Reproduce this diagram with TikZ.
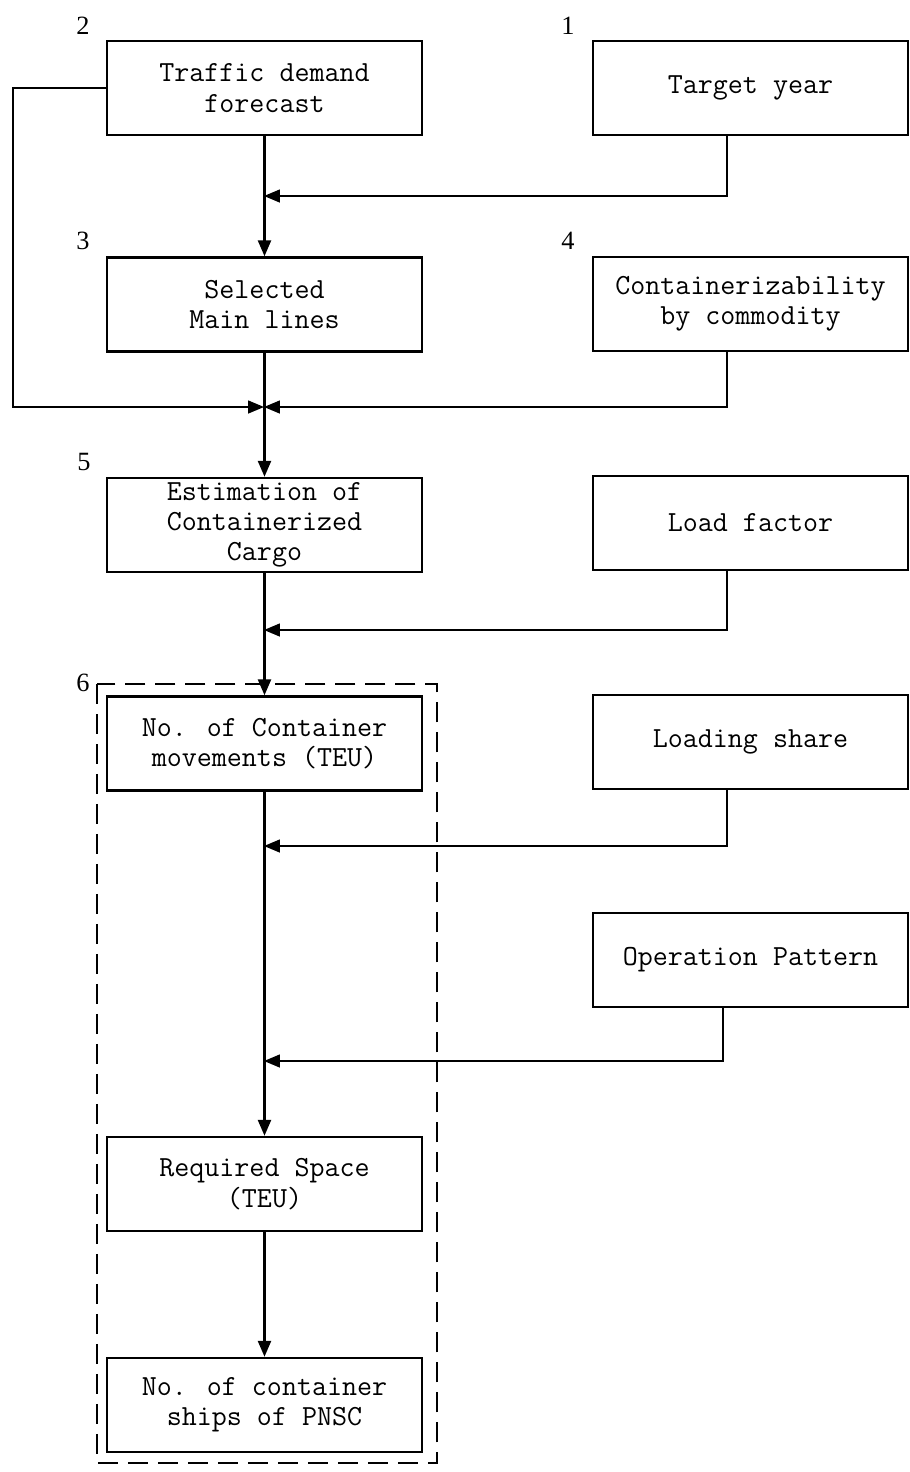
\documentclass[tikz,border=0pt]{standalone}
\usepackage{fontspec}
\newfontfamily\numfont{Liberation Serif}
\usetikzlibrary{arrows.meta}

\tikzset{
  box/.style={draw, line width=1.4pt, minimum width=6.3cm, minimum height=1.88cm,
    inner sep=0pt, align=center, font=\ttfamily\fontsize{16.6}{17.2}\selectfont},
  num/.style={font=\numfont\fontsize{15}{15}\selectfont},
  arr/.style={line width=1.4pt, -{Triangle[length=0.32cm,width=0.26cm]}},
  feed/.style={line width=0.9pt, -{Triangle[length=0.32cm,width=0.26cm]}}
}

\begin{document}
\begin{tikzpicture}[x=0.02cm, y=-0.02cm]
  \useasboundingbox (0,0) rectangle (910,1472);

  % Left column
  \node[box] (traffic) at (264.5,88) {Traffic demand\\forecast};
  \node[box] (selected) at (264.5,304.5) {Selected\\Main lines};
  \node[box] (estim) at (264.5,525) {Estimation of\\Containerized\\Cargo};
  \node[box] (moves) at (264.5,743.5) {No. of Container\\movements (TEU)};
  \node[box] (space) at (264.5,1184) {Required Space\\(TEU)};
  \node[box] (ships) at (264.5,1405) {No. of container\\ships of PNSC};

  % Right column
  \node[box] (target) at (750.5,88) {Target year};
  \node[box] (contain) at (750.5,304) {Containerizability\\by commodity};
  \node[box] (load) at (750.5,523) {Load factor};
  \node[box] (share) at (750.5,742) {Loading share};
  \node[box] (oper) at (750.5,960) {Operation Pattern};

  % Numbers
  \node[num] (n2) at (83,26) {2};
  \node[num] (n1) at (568,26) {1};
  \node[num] (n3) at (83,241) {3};
  \node[num] (n4) at (568,241) {4};
  \node[num] (n5) at (84,462) {5};
  \node[num] (n6) at (83,683) {6};

  % Dashed frame round 6
  \draw[line width=1.2pt, dash pattern=on 0.4cm off 0.2cm] (97,684) rectangle (437,1463);

  % Junction points on the main line
  \coordinate (j1) at (264,196);
  \coordinate (j2) at (264,407);
  \coordinate (j3) at (264,630);
  \coordinate (j4) at (264,846);
  \coordinate (j5) at (264,1061);
  \coordinate (rx) at (727,0);
  \coordinate (ox) at (723,0);
  \coordinate (lx) at (13,0);

  % Main line
  \draw[arr] (traffic) -- (selected);
  \draw[arr] (selected) -- (estim);
  \draw[arr] (estim) -- (moves);
  \draw[arr] (moves) -- (space);
  \draw[arr] (space) -- (ships);

  % Inputs from the right
  \draw[feed] (rx |- target.south) |- (j1);
  \draw[feed] (rx |- contain.south) |- (j2);
  \draw[feed] (rx |- load.south) |- (j3);
  \draw[feed] (rx |- share.south) |- (j4);
  \draw[feed] (ox |- oper.south) |- (j5);

  % Traffic demand round the left side
  \draw[feed] (traffic.west) -- (lx |- traffic.west) |- (j2);
\end{tikzpicture}
\end{document}
